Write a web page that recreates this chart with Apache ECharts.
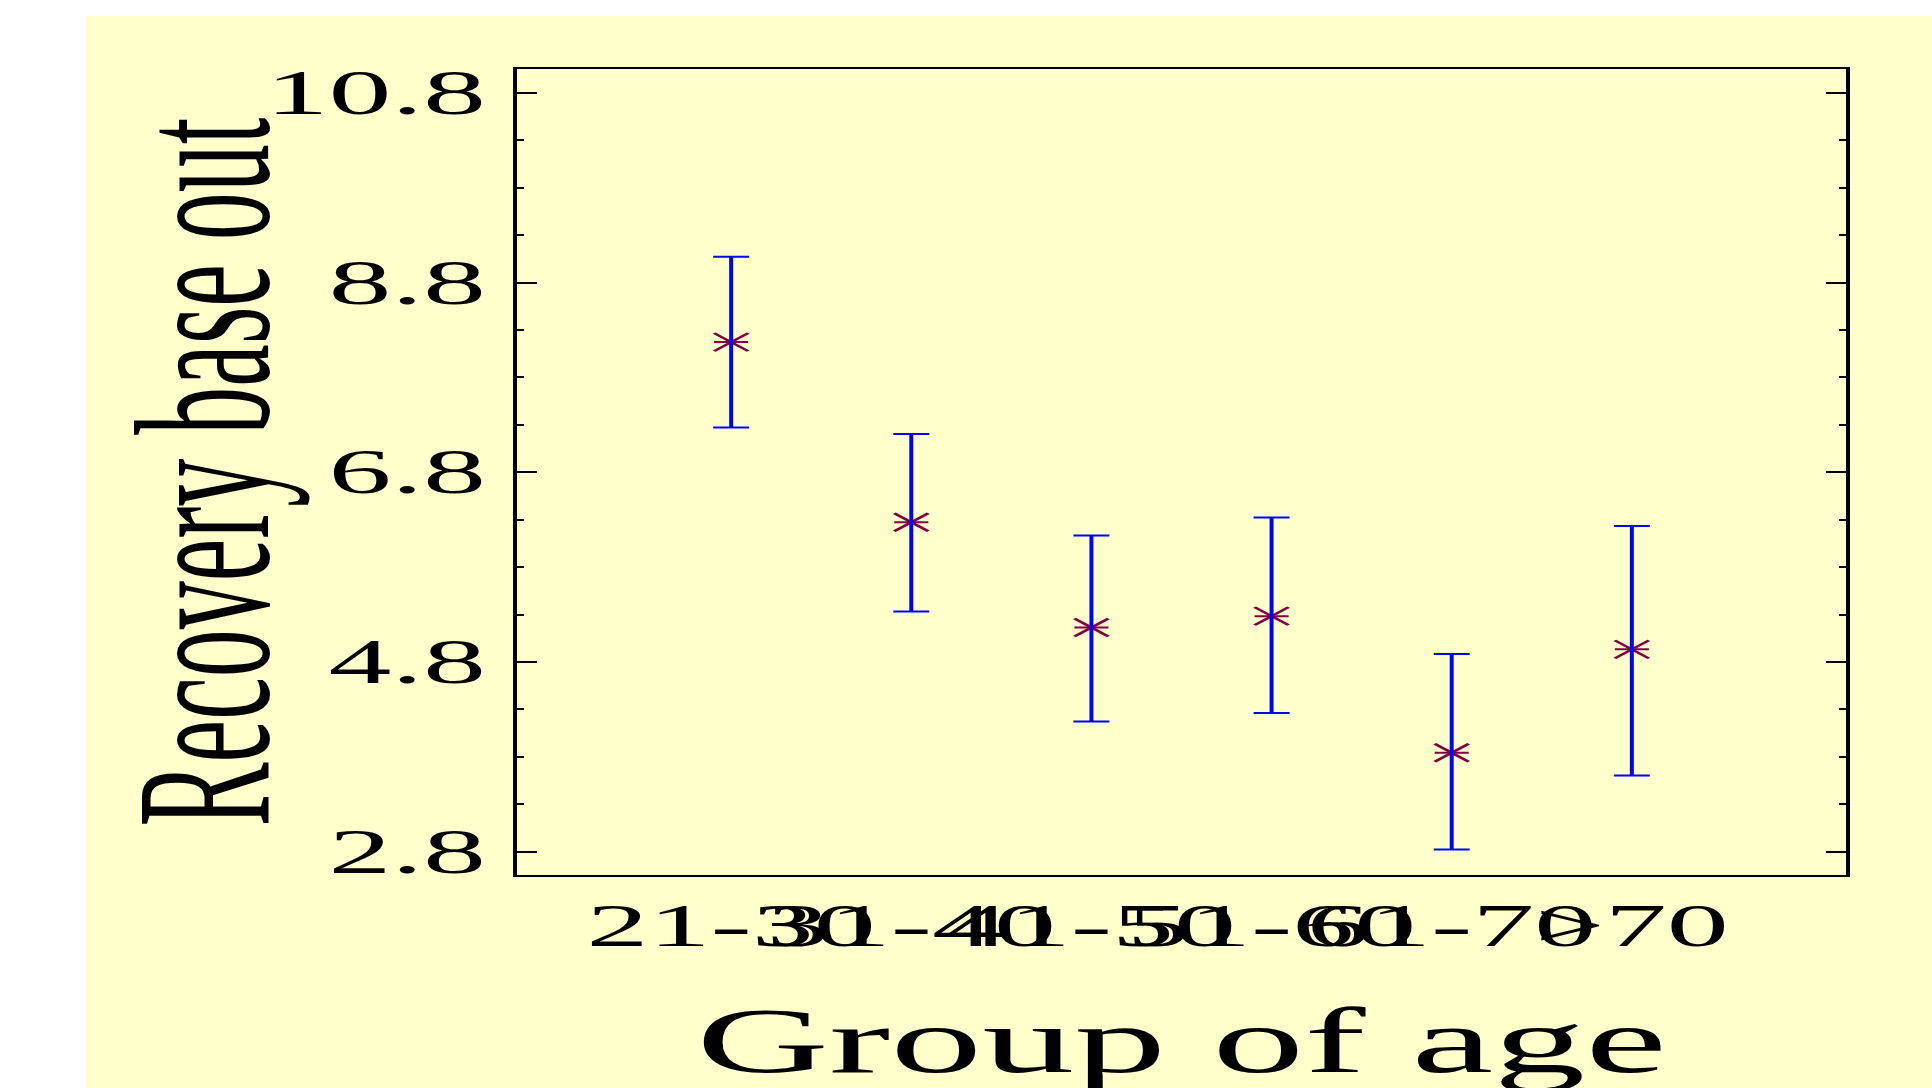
<!DOCTYPE html>
<html>
<head>
<meta charset="utf-8">
<title>Recovery base out by group of age</title>
<script src="https://cdn.jsdelivr.net/npm/echarts@6/dist/echarts.min.js"></script>
<style>
	html, body {
		margin: 0;
		padding: 0;
		width: 1932px;
		height: 1088px;
		background: #ffffff;
		overflow: hidden;
	}
	/* the original picture is stretched twice as wide, so draw at half width and stretch */
	#chart {
		position: absolute;
		left: 86px;
		top: 16px;
		width: 923px;
		height: 1072px;
		transform: scaleX(2);
		transform-origin: 0 0;
	}
</style>
</head>
<body>
<div id="chart"></div>
<script>
const groups = ['21-30', '31-40', '41-50', '51-60', '61-70', '>70']
const groupPos = [1, 2, 3, 4, 5, 6]
const means = [8.17, 6.27, 5.16, 5.28, 3.84, 4.93]
const lower = [7.27, 5.33, 4.17, 4.26, 2.82, 3.60]
const upper = [9.07, 7.20, 6.13, 6.32, 4.88, 6.23]
const yMajorTicks = [2.8, 4.8, 6.8, 8.8, 10.8]
const yMinorTicks = [3.3, 3.8, 4.3, 5.3, 5.8, 6.3, 7.3, 7.8, 8.3, 9.3, 9.8, 10.3]

const font = 'Liberation Serif'
const yMin = 2.54
const yMax = 11.06
const xMin = -0.2
const xMax = 7.2

const chart = echarts.init(document.getElementById('chart'), null, { renderer: 'svg' })

const gridBox = {
	left: 214.5,
	right: 42,
	top: 52,
	bottom: 212,
	outerBoundsMode: 'none',
	containLabel: false
}

function yAxisTicks(gridIndex, position, values, len, withLabels) {
	return {
		type: 'value',
		gridIndex: gridIndex,
		position: position,
		offset: 0,
		min: yMin,
		max: yMax,
		axisLine: { show: false, onZero: false },
		splitLine: { show: false },
		axisTick: {
			show: true,
			inside: true,
			length: len,
			customValues: values,
			lineStyle: { color: '#000', width: 2 }
		},
		axisLabel: withLabels ? {
			show: true,
			customValues: values,
			showMinLabel: true,
			showMaxLabel: true,
			hideOverlap: false,
			margin: 14.5,
			fontFamily: font,
			fontSize: 63,
			color: '#000',
			formatter: v => v.toFixed(1)
		} : { show: false }
	}
}

// the group labels overlap in the original, so they are shared out over two x axes
function xAxisGroups(gridIndex, values) {
	return {
		type: 'value',
		gridIndex: gridIndex,
		min: xMin,
		max: xMax,
		axisLine: { show: false, onZero: false },
		axisTick: { show: false },
		splitLine: { show: false },
		axisLabel: {
			customValues: values,
			showMinLabel: true,
			showMaxLabel: true,
			hideOverlap: false,
			margin: 18,
			fontFamily: font,
			fontSize: 62,
			color: '#000',
			formatter: v => groups[Math.round(v) - 1]
		}
	}
}

const yLeft = yAxisTicks(0, 'left', yMajorTicks, 11, true)
yLeft.name = 'Recovery base out'
yLeft.nameLocation = 'middle'
yLeft.nameRotate = 90
yLeft.nameGap = 108
yLeft.nameMoveOverlap = false
yLeft.nameTextStyle = { fontFamily: font, fontSize: 96, color: '#000' }

const xMain = xAxisGroups(0, [1, 3, 5])
xMain.name = 'Group of age'
xMain.nameLocation = 'middle'
xMain.nameGap = 119
xMain.nameMoveOverlap = false
xMain.nameTextStyle = { fontFamily: font, fontSize: 92, color: '#000' }

chart.setOption({
	backgroundColor: '#ffffcc',
	animation: false,
	grid: [
		Object.assign({ show: true, borderColor: '#000', borderWidth: 2, backgroundColor: 'transparent' }, gridBox),
		Object.assign({ show: false }, gridBox)
	],
	xAxis: [
		xMain,
		xAxisGroups(1, [2, 4, 6])
	],
	yAxis: [
		yLeft,
		yAxisTicks(0, 'right', yMajorTicks, 11, false),
		yAxisTicks(1, 'left', yMinorTicks, 4.5, false),
		yAxisTicks(1, 'right', yMinorTicks, 4.5, false)
	],
	series: [
		{
			name: 'mean',
			type: 'custom',
			xAxisIndex: 0,
			yAxisIndex: 0,
			z: 2,
			data: groupPos.map((x, i) => [x, means[i]]),
			renderItem: (params, api) => {
				const p = api.coord([api.value(0), api.value(1)])
				const w = 8.5
				const h = 9
				const style = { stroke: '#800040', lineWidth: 2 }
				return {
					type: 'group',
					children: [
						{ type: 'line', shape: { x1: p[0] - w, y1: p[1], x2: p[0] + w, y2: p[1] }, style: style },
						{ type: 'line', shape: { x1: p[0] - w, y1: p[1] - h, x2: p[0] + w, y2: p[1] + h }, style: style },
						{ type: 'line', shape: { x1: p[0] - w, y1: p[1] + h, x2: p[0] + w, y2: p[1] - h }, style: style }
					]
				}
			}
		},
		{
			name: 'interval',
			type: 'custom',
			xAxisIndex: 0,
			yAxisIndex: 0,
			z: 3,
			data: groupPos.map((x, i) => [x, lower[i], upper[i]]),
			renderItem: (params, api) => {
				const top = api.coord([api.value(0), api.value(2)])
				const bot = api.coord([api.value(0), api.value(1)])
				const cap = 9
				const style = { stroke: '#0000ff', lineWidth: 2 }
				return {
					type: 'group',
					children: [
						{ type: 'line', shape: { x1: top[0], y1: top[1], x2: bot[0], y2: bot[1] }, style: style },
						{ type: 'line', shape: { x1: top[0] - cap, y1: top[1], x2: top[0] + cap, y2: top[1] }, style: style },
						{ type: 'line', shape: { x1: bot[0] - cap, y1: bot[1], x2: bot[0] + cap, y2: bot[1] }, style: style }
					]
				}
			}
		}
	]
})
</script>
</body>
</html>
